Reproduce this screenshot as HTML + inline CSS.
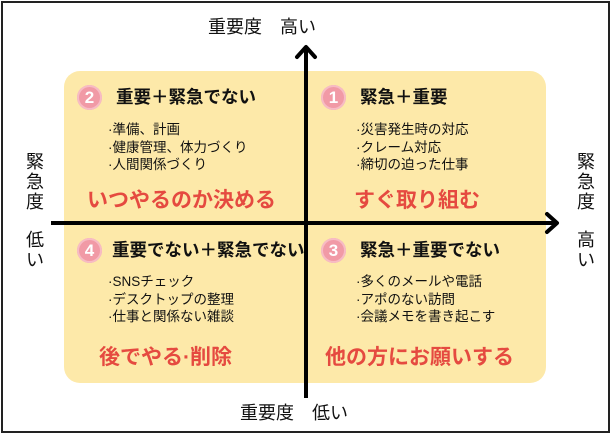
<!DOCTYPE html>
<html><head><meta charset="utf-8"><style>
*{margin:0;padding:0;box-sizing:border-box}
body{width:612px;height:434px;background:#fff;position:relative;overflow:hidden;font-family:"Liberation Sans","Noto Sans CJK JP",sans-serif;color:#111}
.frame{position:absolute;left:1px;top:1px;width:609px;height:432px;border:2px solid #222}
.box{position:absolute;left:64px;top:71px;width:482px;height:312px;background:#fde9a9;border-radius:16px}
.t{position:absolute;white-space:nowrap}
.badge{position:absolute;width:25px;height:25px;border-radius:50%;background:#f19aa6;color:#fff;font-weight:bold;font-size:17px;text-align:center;line-height:25px;box-shadow:inset 0 0 0 2px #f7bcc4}
.title{font-size:17.5px;font-weight:bold;line-height:22px}
.li{font-size:13.5px;line-height:17.5px}
.red{font-size:21px;font-weight:bold;color:#e54a40;line-height:26px}
.v{position:absolute;font-size:18px;line-height:20px;width:20px;text-align:center}
</style></head><body>
<div class="frame"></div>
<div class="box"></div>
<svg style="position:absolute;left:0;top:0" width="612" height="434">
<line x1="306" y1="50" x2="306" y2="398" stroke="#000" stroke-width="4"/>
<polyline points="297,57 306,47 315,57" fill="none" stroke="#000" stroke-width="4" stroke-linejoin="round" stroke-linecap="round"/>
<line x1="51" y1="223" x2="554" y2="223" stroke="#000" stroke-width="4"/>
<polyline points="547,214 557,223 547,232" fill="none" stroke="#000" stroke-width="4" stroke-linejoin="round" stroke-linecap="round"/>
</svg>
<div class="t" style="left:208px;top:13px;font-size:18px">重要度　高い</div>
<div class="t" style="left:240px;top:399px;font-size:18px">重要度　低い</div>
<div class="v" style="left:25px;top:152px">緊<br>急<br>度</div>
<div class="v" style="left:25px;top:230px">低<br>い</div>
<div class="v" style="left:576px;top:152px">緊<br>急<br>度</div>
<div class="v" style="left:576px;top:230px">高<br>い</div>

<div class="badge" style="left:77px;top:85px">2</div>
<div class="t title" style="left:116px;top:86px">重要＋緊急でない</div>
<div class="t li" style="left:108px;top:121px">·準備、計画<br>·健康管理、体力づくり<br>·人間関係づくり</div>
<div class="t red" style="left:87px;top:188px">いつやるのか決める</div>

<div class="badge" style="left:321px;top:85px">1</div>
<div class="t title" style="left:360px;top:86px">緊急＋重要</div>
<div class="t li" style="left:356px;top:121px">·災害発生時の対応<br>·クレーム対応<br>·締切の迫った仕事</div>
<div class="t red" style="left:354px;top:188px">すぐ取り組む</div>

<div class="badge" style="left:77px;top:238px">4</div>
<div class="t title" style="left:112px;top:239px">重要でない＋緊急でない</div>
<div class="t li" style="left:108px;top:273px">·SNSチェック<br>·デスクトップの整理<br>·仕事と関係ない雑談</div>
<div class="t red" style="left:99px;top:345px">後でやる·削除</div>

<div class="badge" style="left:321px;top:238px">3</div>
<div class="t title" style="left:360px;top:239px">緊急＋重要でない</div>
<div class="t li" style="left:356px;top:273px">·多くのメールや電話<br>·アポのない訪問<br>·会議メモを書き起こす</div>
<div class="t red" style="left:325px;top:345px">他の方にお願いする</div>
</body></html>
